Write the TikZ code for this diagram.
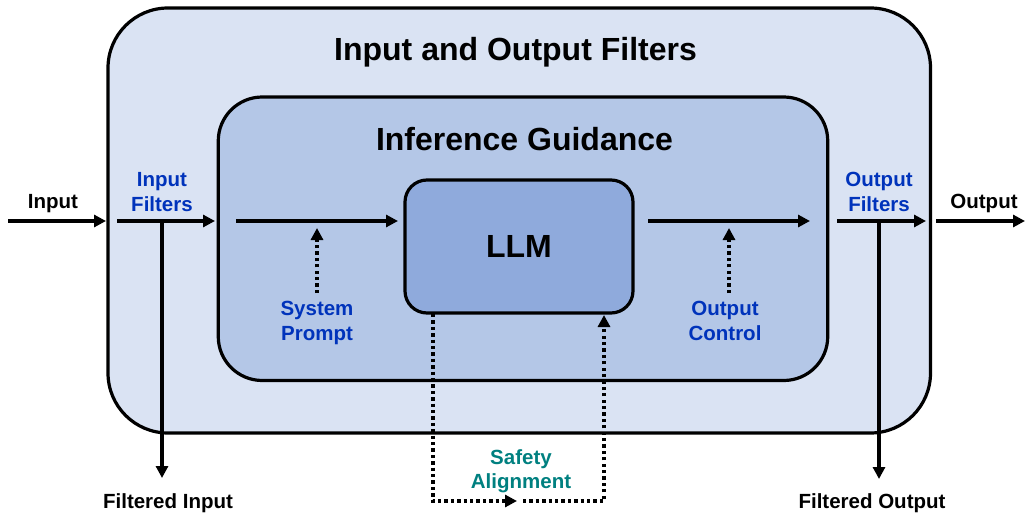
\documentclass[tikz,border=0pt]{standalone}
\usepackage{fontspec}
\setmainfont{Liberation Sans}
\usetikzlibrary{arrows.meta}
\definecolor{outerfill}{RGB}{218,227,243}
\definecolor{innerfill}{RGB}{180,199,231}
\definecolor{llmfill}{RGB}{143,170,220}
\definecolor{lblblue}{RGB}{0,51,187}
\definecolor{lblteal}{RGB}{0,128,128}
\begin{document}
\begin{tikzpicture}[x=1pt,y=-1pt,
  boxstyle/.style={draw=black, line width=3.2pt, inner sep=0pt, outer sep=0pt},
  arr/.style={line width=3.3pt, -{Triangle[length=12pt,width=12pt]}},
  dotarr/.style={line width=3.6pt, dash pattern=on 3.3pt off 3.1pt, -{Triangle[length=12pt,width=12pt]}},
  lbl/.style={font=\fontsize{20.5}{24.5}\selectfont\bfseries, align=center, inner sep=0pt},
  ttl/.style={font=\fontsize{32}{38}\selectfont\bfseries, inner sep=0pt}]
\useasboundingbox (0,0) rectangle (1025,513);

% boxes
\node[boxstyle, fill=outerfill, rounded corners=60pt, minimum width=822.5pt, minimum height=425pt] (outer) at (519.25,220.5) {};
\node[boxstyle, fill=innerfill, rounded corners=44pt, minimum width=609.5pt, minimum height=283.5pt] (inner) at (523,238.75) {};
\node[boxstyle, fill=llmfill, rounded corners=22pt, minimum width=228pt, minimum height=133pt,
      font=\fontsize{32}{38}\selectfont\bfseries] (llm) at (519,246.5) {LLM};

% titles
\node[ttl, anchor=base] (t1) at (515.5,60.5) {Input and Output Filters};
\node[ttl, anchor=base] (t2) at (524.5,150.7) {Inference Guidance};

% labels
\node[lbl, anchor=base] (inLbl) at (53,208) {Input};
\node[lbl, anchor=base] (outLbl) at (984,208.5) {Output};
\node[lbl, text=lblblue] (ifLbl) at (162,192) {Input\\Filters};
\node[lbl, text=lblblue] (ofLbl) at (879,191.7) {Output\\Filters};
\node[lbl, text=lblblue] (spLbl) at (317,323) {System\\Prompt};
\node[lbl, text=lblblue] (ocLbl) at (725,320.7) {Output\\Control};
\node[lbl, text=lblteal] (saLbl) at (521,471.2) {Safety\\Alignment};
\node[lbl, anchor=base] (fiLbl) at (168,508) {Filtered Input};
\node[lbl, anchor=base] (foLbl) at (872,508) {Filtered Output};

% coordinates
\coordinate (inA) at (8,221);
\coordinate (inB) at (106,221);
\coordinate (ifA) at (117,221);
\coordinate (ifB) at (215,221);
\coordinate (ifD) at (162,221);
\coordinate (fiT) at (162,478);
\coordinate (sA) at (236,221);
\coordinate (sB) at (398,221);
\coordinate (spA) at (317,293);
\coordinate (spB) at (317,228);
\coordinate (oA) at (648,221);
\coordinate (oB) at (810,221);
\coordinate (ocA) at (729,293);
\coordinate (ocB) at (729,228);
\coordinate (ofA) at (837,221);
\coordinate (ofB) at (926,221);
\coordinate (ofD) at (879,221);
\coordinate (foT) at (879,479);
\coordinate (outA) at (936,221);
\coordinate (outB) at (1025,221);
\coordinate (saA) at (433,314);
\coordinate (saB) at (433,501);
\coordinate (saC) at (517,501);
\coordinate (saD) at (523,501);
\coordinate (saE) at (604,501);
\coordinate (saF) at (604,315);

% connectors
\draw[arr] (inA) -- (inB);
\draw[arr] (ifA) -- (ifB);
\draw[arr] (ifD) -- (fiT);
\draw[arr] (sA) -- (sB);
\draw[dotarr] (spA) -- (spB);
\draw[arr] (oA) -- (oB);
\draw[dotarr] (ocA) -- (ocB);
\draw[arr] (ofA) -- (ofB);
\draw[arr] (ofD) -- (foT);
\draw[arr] (outA) -- (outB);
\draw[dotarr] (saA) -- (saB) -- (saC);
\draw[dotarr] (saD) -- (saE) -- (saF);
\end{tikzpicture}
\end{document}
